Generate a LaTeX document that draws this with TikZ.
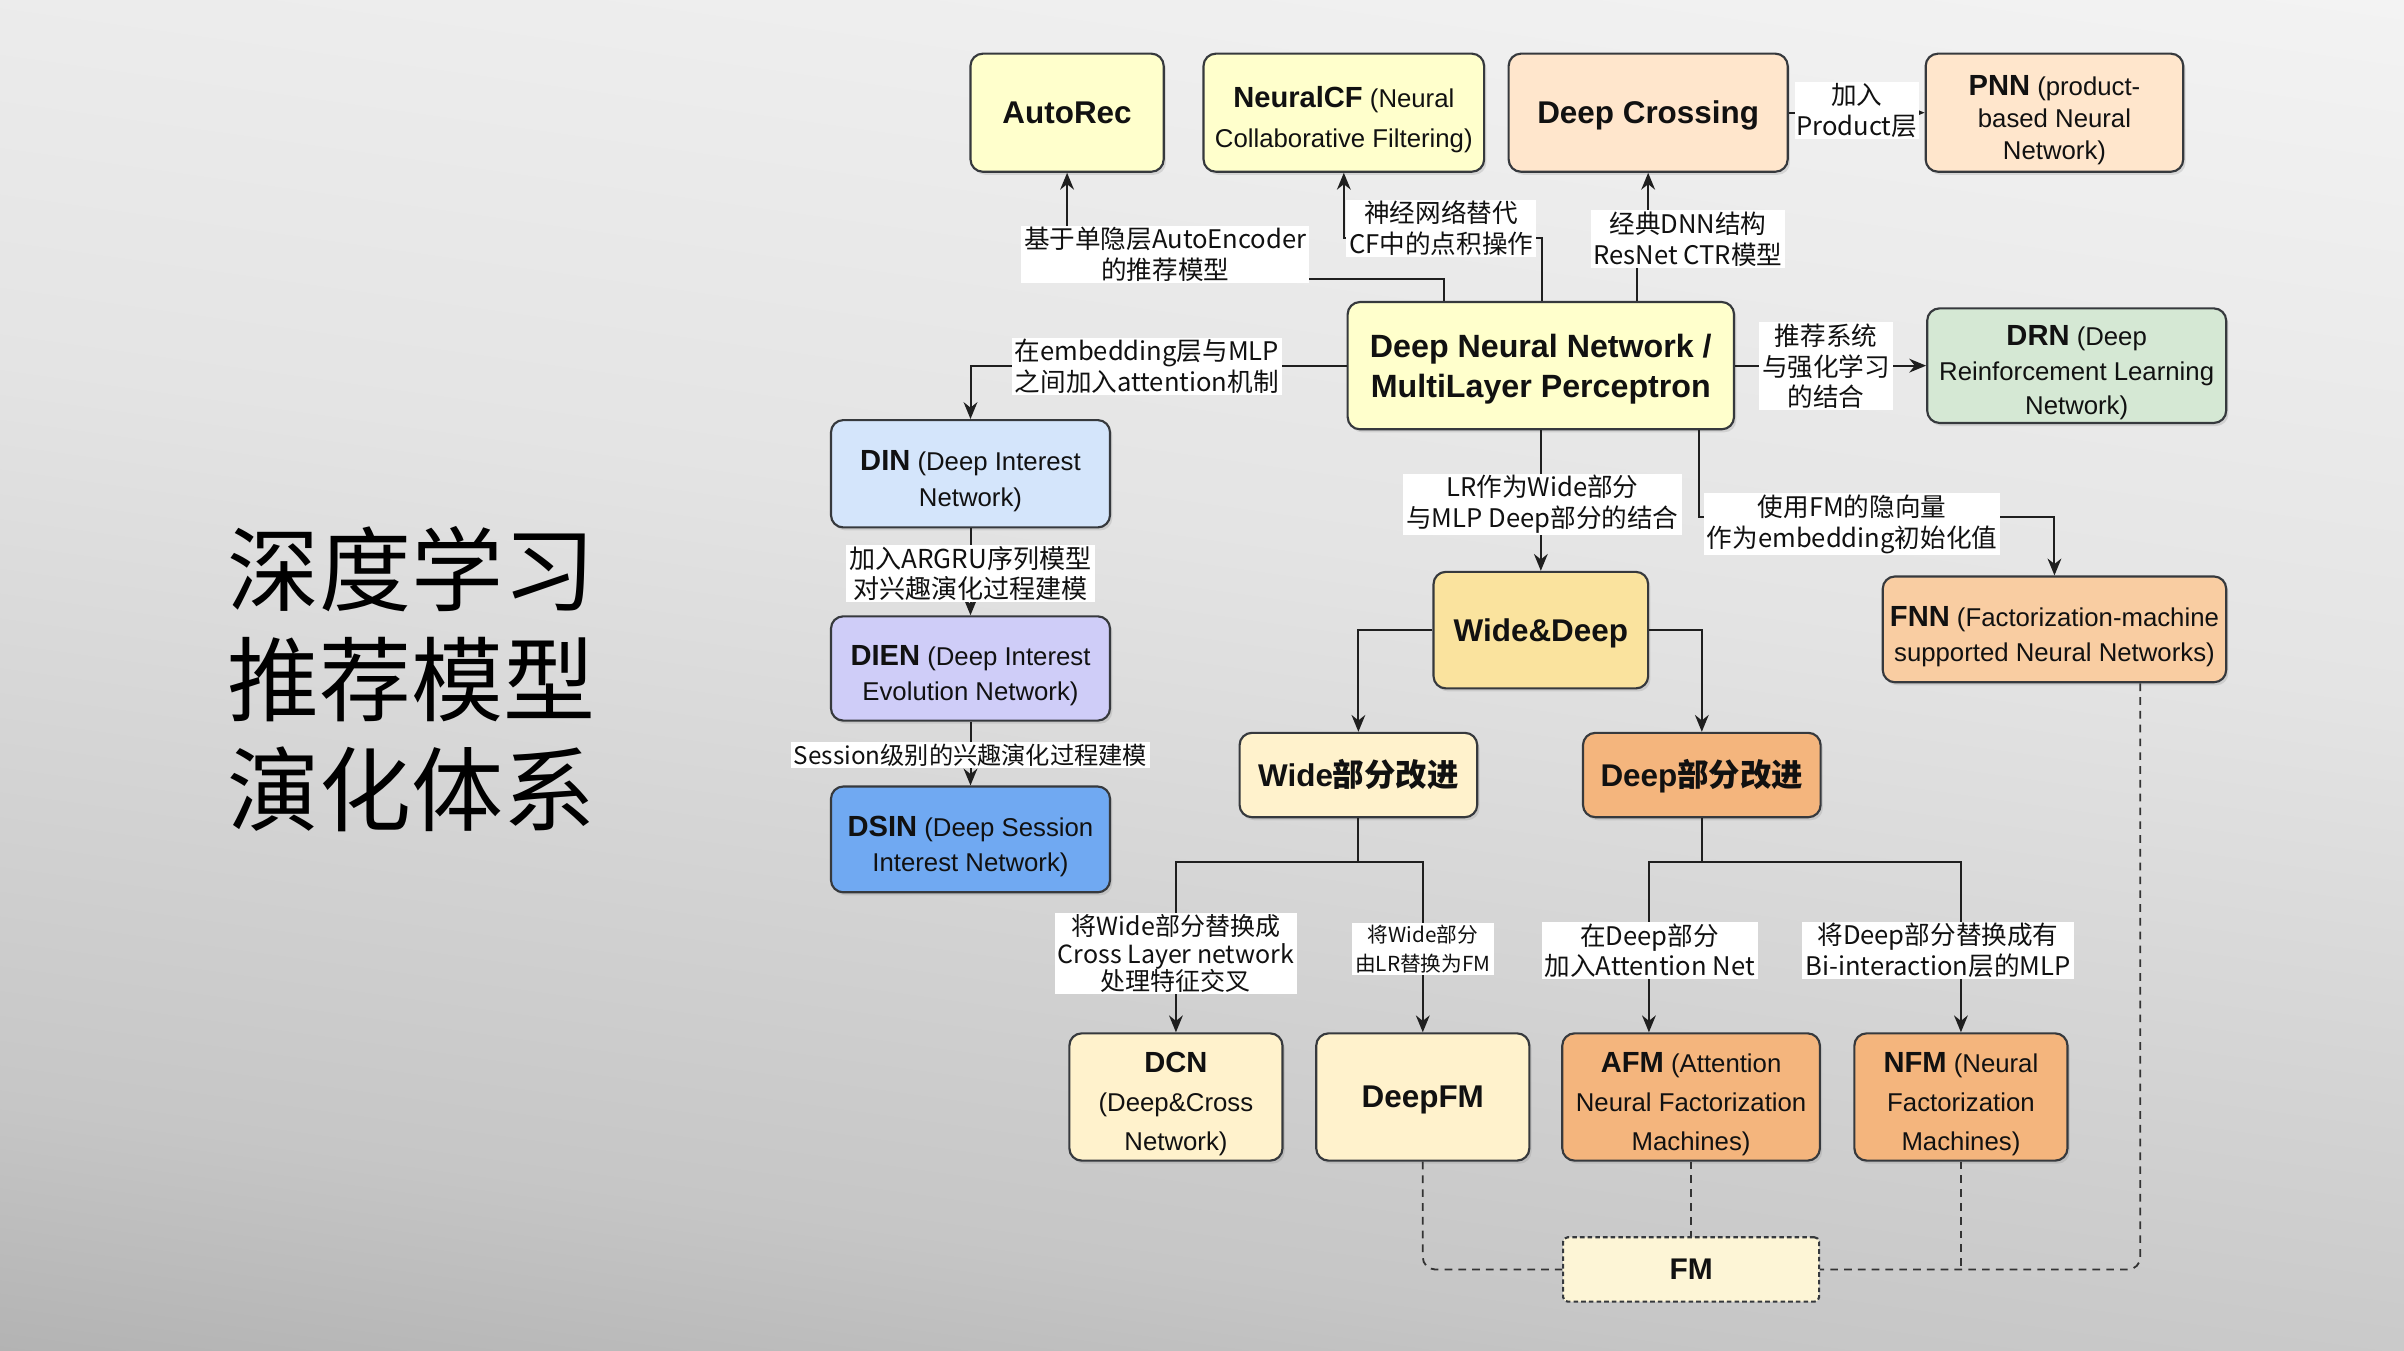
\documentclass[tikz,border=0pt]{standalone}
\usepackage{fontspec}
\setmainfont{Liberation Sans}
\newfontfamily\zhfont{Noto Sans CJK SC}
\newcommand\zh[1]{{\zhfont #1}}
\newcommand\B[1]{{\fontsize{19}{23}\selectfont\bfseries #1}}
\newcommand\bstrut{\rule[-0.25em]{0pt}{1.2em}}
\newcommand\tstrut{\rule{0pt}{1.4em}}
\usetikzlibrary{arrows.meta,shadows}
\definecolor{bgA}{HTML}{828282}
\definecolor{bgB}{HTML}{C6C6C6}
\definecolor{bgC}{HTML}{E4E4E4}
\definecolor{bgD}{HTML}{F4F4F4}
\definecolor{bgE}{HTML}{FCFCFC}
\definecolor{cbord}{HTML}{36393D}
\definecolor{txt}{HTML}{111111}
\definecolor{cyel}{HTML}{FFFFCC}
\definecolor{cpeach}{HTML}{FFE6CC}
\definecolor{cgreen}{HTML}{D5E8D4}
\definecolor{cltblue}{HTML}{D4E5FB}
\definecolor{clav}{HTML}{CFCDF8}
\definecolor{cblue}{HTML}{70A9F2}
\definecolor{cgold}{HTML}{FAE39E}
\definecolor{corange}{HTML}{F9CDA2}
\definecolor{ccream}{HTML}{FFF2CC}
\definecolor{cdeep}{HTML}{F4B57D}
\definecolor{cfm}{HTML}{FDF5D6}
\pgfdeclareverticalshading{bgshade}{100bp}{color(0bp)=(bgA); color(30bp)=(bgB); color(55bp)=(bgC); color(80bp)=(bgD); color(100bp)=(bgE)}
\begin{document}
\begin{tikzpicture}[x=1pt,y=-1pt,
  boxbase/.style={draw=cbord, line width=1.4pt, rounded corners=8pt, align=center, inner sep=1pt, text=txt, font=\fontsize{16.8}{23}\selectfont, execute at begin node={\bstrut}, execute at end node={\bstrut}},
  box/.style={boxbase, drop shadow={shadow xshift=1.5pt,shadow yshift=-2pt,opacity=0.22}},
  ttl/.style={font=\bfseries\fontsize{20.5}{24}\selectfont},
  lsk/.style={font=\fontsize{16.8}{#1}\selectfont},
  conn/.style={draw=black!88, line width=1.3pt, -{Stealth[length=11pt,width=9pt]}},
  dconn/.style={draw=black!80, line width=1.2pt, dash pattern=on 5pt off 4pt, rounded corners=8pt},
  lbl/.style={fill=white, inner xsep=2pt, inner ysep=1pt, align=center, text=txt, font=\zhfont\fontsize{16.7}{20}\selectfont}
]
% background
\shade[shading=bgshade, shading angle=-8] (0,0) rectangle (1568,880.6);
\useasboundingbox (0,0) rectangle (1568,880.6);

% title
\node[anchor=west, align=left, text=black, font=\zhfont\fontsize{60}{71.5}\selectfont] (title) at (145,443) {深度学习\\推荐模型\\演化体系};

% boxes
\node[box, ttl, fill=cyel, minimum width=126pt, minimum height=77pt] (autorec) at (696,73.5) {AutoRec};
\node[box, lsk=26, fill=cyel, minimum width=183pt, minimum height=77pt] (ncf) at (876.5,73.5) {\tstrut\B{NeuralCF} (Neural\\Collaborative Filtering)};
\node[box, ttl, fill=cpeach, minimum width=182pt, minimum height=77pt] (dc) at (1075,73.5) {Deep Crossing};
\node[box, lsk=21, fill=cpeach, minimum width=168pt, minimum height=77pt] (pnn) at (1340,73.5) {\tstrut\B{PNN} (product-\\based Neural\\Network)};
\node[box, fill=cyel, minimum width=252pt, minimum height=83pt, font=\bfseries\fontsize{21}{26}\selectfont] (dnn) at (1005,238.5) {\rule{0pt}{1.0em}Deep Neural Network /\\MultiLayer Perceptron};
\node[box, lsk=22.5, fill=cgreen, minimum width=195pt, minimum height=69pt] (drn) at (1354.5,238.5) {\tstrut\B{DRN} (Deep\\Reinforcement Learning\\Network)};
\node[box, fill=cltblue, minimum width=182pt, minimum height=70pt] (din) at (633,309) {\tstrut\B{DIN} (Deep Interest\\Network)};
\node[box, fill=clav, minimum width=182pt, minimum height=68pt] (dien) at (633,436) {\tstrut\B{DIEN} (Deep Interest\\Evolution Network)};
\node[box, fill=cblue, minimum width=182pt, minimum height=69pt] (dsin) at (633,547.5) {\tstrut\B{DSIN} (Deep Session\\Interest Network)};
\node[box, ttl, fill=cgold, minimum width=140pt, minimum height=76pt] (wd) at (1005,411) {Wide\&Deep};
\node[box, fill=corange, minimum width=224pt, minimum height=69pt] (fnn) at (1340,410.5) {\tstrut\B{FNN} (Factorization-machine\\supported Neural Networks)};
\node[box, ttl, fill=ccream, minimum width=155pt, minimum height=55pt] (widei) at (886,505.5) {Wide\zh{部分改进}};
\node[box, ttl, fill=cdeep, minimum width=155pt, minimum height=55pt] (deepi) at (1110,505.5) {Deep\zh{部分改进}};
\node[box, lsk=25.5, fill=ccream, minimum width=139pt, minimum height=83pt] (dcn) at (767,715.5) {\tstrut\B{DCN}\\(Deep\&Cross\\Network)};
\node[box, ttl, fill=ccream, minimum width=139pt, minimum height=83pt] (dfm) at (928,715.5) {DeepFM};
\node[box, lsk=25.5, fill=cdeep, minimum width=168pt, minimum height=83pt] (afm) at (1103,715.5) {\tstrut\B{AFM} (Attention\\Neural Factorization\\Machines)};
\node[box, lsk=25.5, fill=cdeep, minimum width=139pt, minimum height=83pt] (nfm) at (1279,715.5) {\tstrut\B{NFM} (Neural\\Factorization\\Machines)};
\node[boxbase, fill=cfm, rounded corners=3pt, dash pattern=on 3pt off 2pt, minimum width=167pt, minimum height=42pt, font=\bfseries\fontsize{19.5}{23}\selectfont] (fm) at (1103,828) {FM};

% bend points
\coordinate (k1) at (942,182);
\coordinate (k2) at (1006,155);
\coordinate (k3) at (1068,160);
\coordinate (k8) at (1108,337);
\coordinate (k13) at (886,562);
\coordinate (k14) at (1110,562);

% connectors
\draw[conn] (k1 |- dnn.north) -- (k1) -| (autorec.south);
\draw[conn] (k2 |- dnn.north) -- (k2) -| (ncf.south);
\draw[conn] (k3 |- dnn.north) -- (k3) -| (dc.south);
\draw[conn] (dc.east) -- (pnn.west);
\draw[conn] (dnn.east) -- (drn.west);
\draw[conn] (dnn.west) -| (din.north);
\draw[conn] (dnn.south) -- (wd.north);
\draw[conn] (k8 |- dnn.south) -- (k8) -| (fnn.north);
\draw[conn] (din.south) -- (dien.north);
\draw[conn] (dien.south) -- (dsin.north);
\draw[conn] (wd.west) -| (widei.north);
\draw[conn] (wd.east) -| (deepi.north);
\draw[conn] (widei.south) -- (k13) -| (dcn.north);
\draw[conn] (k13) -| (dfm.north);
\draw[conn] (deepi.south) -- (k14) -| ([xshift=-27.5pt]afm.north);
\draw[conn] (k14) -| (nfm.north);

% dashed links to FM
\draw[dconn] (dfm.south) |- (fm.west);
\draw[dconn] (afm.south) -- (fm.north);
\draw[dconn] (nfm.south) -- (nfm.south |- fm.east);
\draw[dconn] ([xshift=56pt]fnn.south) |- (fm.east);

% labels
\node[lbl] (l1) at (760,166) {基于单隐层AutoEncoder\\的推荐模型};
\node[lbl] (l2) at (940,149) {神经网络替代\\CF中的点积操作};
\node[lbl] (l3) at (1101,156) {经典DNN结构\\ResNet CTR模型};
\node[lbl, inner xsep=1pt] (l4) at (1211,72) {加入\\Product层};
\node[lbl] (l5) at (1191,239) {推荐系统\\与强化学习\\的结合};
\node[lbl] (l6) at (748,239) {在embedding层与MLP\\之间加入attention机制};
\node[lbl] (l7) at (1006,329) {LR作为Wide部分\\与MLP Deep部分的结合};
\node[lbl] (l8) at (1208,342) {使用FM的隐向量\\作为embedding初始化值};
\node[lbl, font=\zhfont\fontsize{17}{19.5}\selectfont] (l9) at (633,374) {加入ARGRU序列模型\\对兴趣演化过程建模};
\node[lbl, font=\zhfont\fontsize{15.8}{19}\selectfont] (l10) at (633,492.5) {Session级别的兴趣演化过程建模};
\node[lbl, font=\zhfont\fontsize{16.3}{18}\selectfont] (l11) at (767,622) {将Wide部分替换成\\Cross Layer network\\处理特征交叉};
\node[lbl, font=\zhfont\fontsize{13.5}{19}\selectfont] (l12) at (928,619) {将Wide部分\\由LR替换为FM};
\node[lbl] (l13) at (1076,620) {在Deep部分\\加入Attention Net};
\node[lbl] (l14) at (1264,620) {将Deep部分替换成有\\Bi-interaction层的MLP};
\end{tikzpicture}
\end{document}
